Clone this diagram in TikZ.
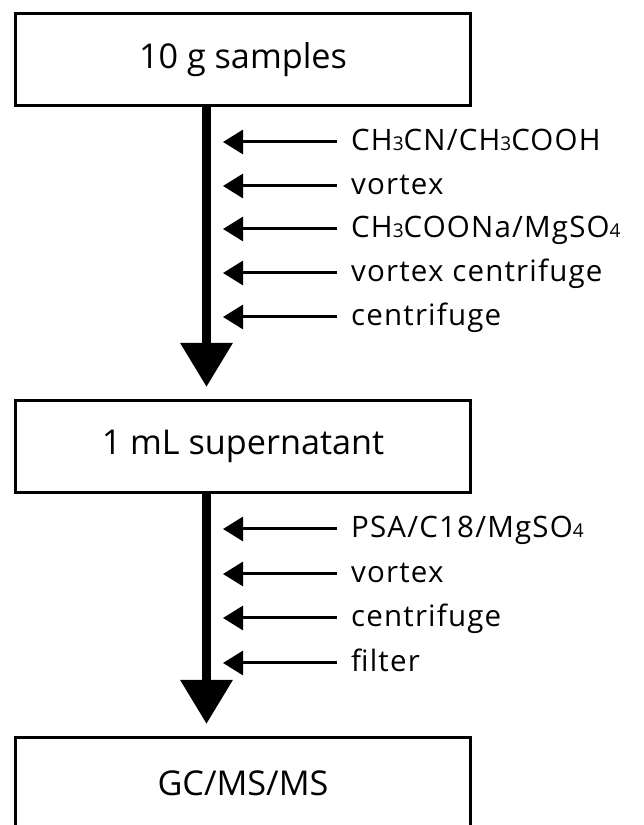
\documentclass[tikz,border=0pt]{standalone}
\usepackage{fontspec}
\setmainfont{Open Sans}
\newfontfamily\labfont[LetterSpace=4]{Open Sans}
\usetikzlibrary{arrows.meta}
\newcommand\dsub[1]{{\fontsize{19}{19}\selectfont #1}}
\begin{document}
\begin{tikzpicture}[x=1pt,y=1pt,
  box/.style={draw, line width=3pt, minimum width=455pt, minimum height=92pt,
    inner sep=0pt, font=\fontsize{34.2}{40}\selectfont},
  lab/.style={anchor=base west, inner sep=0pt, font=\labfont\fontsize{29.5}{34}\selectfont},
  flow/.style={line width=9.5pt, -{Triangle[width=50pt,length=44pt]}},
  feed/.style={line width=3pt, -{Triangle[width=24pt,length=20pt]}}]
\fill[white] (0,0) rectangle (643,825);
\useasboundingbox (0,0) rectangle (643,825);
\clip (0,0) rectangle (643,825);

\node[box] (b1) at (243,765.5) {10 g samples};
\node[box] (b2) at (243,378.5) {1 mL supernatant};
\node[box] (b3) at (243,41.5) {GC/MS/MS};

\coordinate (s1) at (206.5,0);
\draw[flow] (b1.south -| s1) -- ([yshift=12pt]b2.north -| s1);
\draw[flow] (b2.south -| s1) -- ([yshift=12pt]b3.north -| s1);

% first group
\coordinate (f1s) at (337,683); \coordinate (f1e) at (223,683);
\coordinate (f2s) at (337,639); \coordinate (f2e) at (223,639);
\coordinate (f3s) at (337,596); \coordinate (f3e) at (223,596);
\coordinate (f4s) at (337,552); \coordinate (f4e) at (223,552);
\coordinate (f5s) at (337,508); \coordinate (f5e) at (223,508);
\draw[feed] (f1s) -- (f1e);
\draw[feed] (f2s) -- (f2e);
\draw[feed] (f3s) -- (f3e);
\draw[feed] (f4s) -- (f4e);
\draw[feed] (f5s) -- (f5e);
\node[lab] (l1) at (351,674) {CH\dsub{3}CN/CH\dsub{3}COOH};
\node[lab] (l2) at (351,630) {vortex};
\node[lab] (l3) at (351,587) {CH\dsub{3}COONa/MgSO\dsub{4}};
\node[lab] (l4) at (351,543) {vortex centrifuge};
\node[lab] (l5) at (351,499) {centrifuge};

% second group
\coordinate (g1s) at (337,296); \coordinate (g1e) at (223,296);
\coordinate (g2s) at (337,251); \coordinate (g2e) at (223,251);
\coordinate (g3s) at (337,207); \coordinate (g3e) at (223,207);
\coordinate (g4s) at (337,162); \coordinate (g4e) at (223,162);
\draw[feed] (g1s) -- (g1e);
\draw[feed] (g2s) -- (g2e);
\draw[feed] (g3s) -- (g3e);
\draw[feed] (g4s) -- (g4e);
\node[lab] (m1) at (351,287) {PSA/C18/MgSO\dsub{4}};
\node[lab] (m2) at (351,242) {vortex};
\node[lab] (m3) at (351,198) {centrifuge};
\node[lab] (m4) at (351,153) {filter};
\end{tikzpicture}
\end{document}
